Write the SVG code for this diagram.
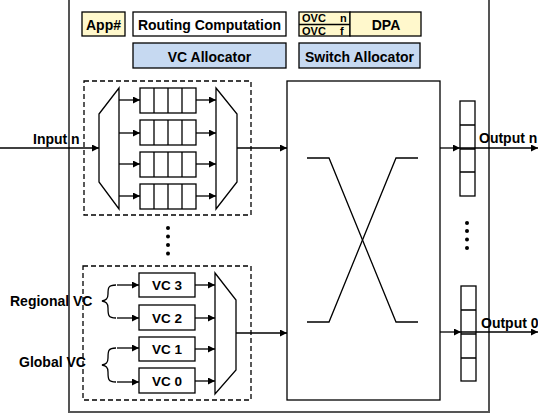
<svg xmlns="http://www.w3.org/2000/svg" width="538" height="414" viewBox="0 0 538 414">
<style>
text{font-family:"Liberation Sans",Arial,sans-serif;font-weight:bold;fill:#000}
.t14{font-size:14px}
.t13{font-size:13.5px}
.t11{font-size:11px}
.bx{stroke:#000;stroke-width:1.3}
.ln{stroke:#000;stroke-width:1.3;fill:none}
.dash{fill:none;stroke:#000;stroke-width:1.3;stroke-dasharray:5,3}
.arr{stroke:#000;stroke-width:1.3;fill:none;marker-end:url(#ah)}
</style>
<defs>
<marker id="ah" viewBox="0 0 10 10" refX="10" refY="5" markerWidth="8" markerHeight="7" markerUnits="userSpaceOnUse" orient="auto">
<path d="M0,0L10,5L0,10z" fill="#000"/>
</marker>
</defs>
<rect width="538" height="414" fill="#fff"/>
<rect id="router" x="69" y="-5" width="420" height="417" fill="none" stroke="#555" stroke-width="2"/>

<g id="app"><rect class="bx" x="82" y="12" width="43" height="24" fill="#FFF8CC"/><text class="t14" x="103.5" y="29.5" text-anchor="middle">App#</text></g>
<g id="routing"><rect class="bx" x="133" y="12" width="153" height="24" fill="#fff"/><text class="t14" x="209.5" y="29.5" text-anchor="middle">Routing Computation</text></g>
<g id="ovc"><rect class="bx" x="299" y="12" width="51" height="24" fill="#FFF8CC"/><line class="ln" x1="299" y1="24.5" x2="350" y2="24.5"/><text class="t11" x="302" y="22" word-spacing="11">OVC n</text><text class="t11" x="302" y="35" word-spacing="11">OVC f</text></g>
<g id="dpa"><rect class="bx" x="350" y="12" width="71" height="24" fill="#FFF8CC"/><text class="t14" x="386" y="29.5" text-anchor="middle">DPA</text></g>
<g id="vcalloc"><rect class="bx" x="133" y="43" width="153" height="25" fill="#C6D9F1"/><text class="t14" x="209.5" y="62" text-anchor="middle">VC Allocator</text></g>
<g id="swalloc"><rect class="bx" x="299" y="43" width="121" height="25" fill="#C6D9F1"/><text class="t14" x="359.5" y="62" text-anchor="middle">Switch Allocator</text></g>

<g id="inputn-unit">
<rect class="dash" x="84" y="81" width="167" height="134"/>
<path class="ln" d="M99,114L119,88L119,209L99,182Z" fill="#fff"/>
<path class="ln" d="M216,88L237,114L237,182L216,209Z" fill="#fff"/>
<g fill="#fff">
<rect class="bx" x="140" y="88" width="56" height="25"/>
<rect class="bx" x="140" y="120" width="56" height="25"/>
<rect class="bx" x="140" y="152" width="56" height="25"/>
<rect class="bx" x="140" y="184" width="56" height="25"/>
</g>
<path class="ln" d="M154,88V113M168,88V113M182,88V113M154,120V145M168,120V145M182,120V145M154,152V177M168,152V177M182,152V177M154,184V209M168,184V209M182,184V209"/>
</g>

<g id="vc-unit">
<rect class="dash" x="83" y="266" width="168" height="134"/>
<g id="vc3"><rect class="bx" x="139" y="273" width="56" height="24" fill="#fff"/><text class="t13" x="167" y="290" text-anchor="middle">VC 3</text></g>
<g id="vc2"><rect class="bx" x="139" y="305" width="56" height="25" fill="#fff"/><text class="t13" x="167" y="322.5" text-anchor="middle">VC 2</text></g>
<g id="vc1"><rect class="bx" x="139" y="337" width="56" height="24" fill="#fff"/><text class="t13" x="167" y="354" text-anchor="middle">VC 1</text></g>
<g id="vc0"><rect class="bx" x="139" y="368" width="56" height="25" fill="#fff"/><text class="t13" x="167" y="385.5" text-anchor="middle">VC 0</text></g>
<path class="ln" d="M215,273L236,300L236,370L215,394Z" fill="#fff"/>
</g>

<g id="crossbar">
<rect class="bx" x="287" y="81" width="153" height="319" fill="#fff"/>
<path class="ln" d="M307,158H329L396,322H418"/>
<path class="ln" d="M307,322H329L396,158H418"/>
</g>

<g id="outbuf-n">
<rect class="bx" x="460" y="101" width="15" height="95" fill="#fff"/>
<path class="ln" d="M460,125H475M460,149H475M460,172H475"/>
</g>
<g id="outbuf-0">
<rect class="bx" x="461" y="286" width="15" height="95" fill="#fff"/>
<path class="ln" d="M461,310H476M461,334H476M461,358H476"/>
</g>

<g id="dots" fill="#000">
<circle cx="168" cy="228" r="2"/><circle cx="168" cy="236.5" r="2"/><circle cx="168" cy="245" r="2"/><circle cx="168" cy="253.5" r="2"/>
<circle cx="467" cy="223" r="2"/><circle cx="467" cy="231" r="2"/><circle cx="467" cy="239.5" r="2"/><circle cx="467" cy="248" r="2"/>
</g>

<g id="connectors">
<line class="arr" x1="0" y1="148" x2="99" y2="148"/>
<line class="arr" x1="119" y1="100" x2="140" y2="100"/>
<line class="arr" x1="119" y1="133" x2="140" y2="133"/>
<line class="arr" x1="119" y1="164" x2="140" y2="164"/>
<line class="arr" x1="119" y1="196" x2="140" y2="196"/>
<line class="arr" x1="196" y1="100" x2="216" y2="100"/>
<line class="arr" x1="196" y1="133" x2="216" y2="133"/>
<line class="arr" x1="196" y1="164" x2="216" y2="164"/>
<line class="arr" x1="196" y1="196" x2="216" y2="196"/>
<line class="arr" x1="237" y1="148" x2="287" y2="148"/>
<line class="arr" x1="117" y1="285" x2="139" y2="285"/>
<line class="arr" x1="117" y1="318" x2="139" y2="318"/>
<line class="arr" x1="117" y1="348" x2="139" y2="348"/>
<line class="arr" x1="117" y1="382" x2="139" y2="382"/>
<line class="arr" x1="195" y1="285" x2="215" y2="285"/>
<line class="arr" x1="195" y1="318" x2="215" y2="318"/>
<line class="arr" x1="195" y1="349" x2="215" y2="349"/>
<line class="arr" x1="195" y1="381" x2="215" y2="381"/>
<line class="arr" x1="236" y1="333" x2="287" y2="333"/>
<line class="arr" x1="440" y1="148" x2="460" y2="148"/>
<line class="arr" x1="440" y1="332" x2="461" y2="332"/>
<line class="arr" x1="460" y1="148" x2="538" y2="148"/>
<line class="arr" x1="461" y1="332" x2="538" y2="332"/>
<path class="ln" d="M116,285C108,285 108,288 108,294C108,299 106,300 102,301C106,302 108,303 108,308C108,315 108,318 116,318"/>
<path class="ln" d="M116,348C108,348 108,351 108,358C108,363 106,364 102,365C106,366 108,367 108,372C108,379 108,382 116,382"/>
</g>

<g id="labels">
<text class="t14" x="33" y="144">Input n</text>
<text class="t14" x="479" y="143">Output n</text>
<text class="t14" x="481" y="328">Output 0</text>
<text class="t14" x="10" y="306">Regional VC</text>
<text class="t14" x="19" y="367">Global VC</text>
</g>
</svg>
